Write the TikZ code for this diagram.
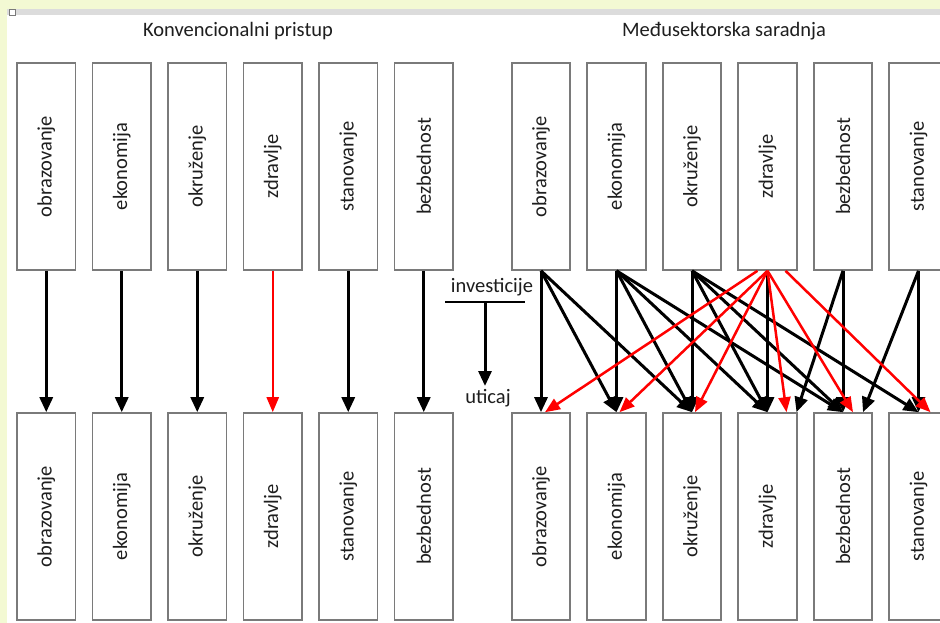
\documentclass[tikz,border=0pt]{standalone}
\usepackage{fontspec}
\usepackage{graphicx}
\setmainfont{Carlito}
\usetikzlibrary{arrows.meta,calc}
\definecolor{bgyellow}{HTML}{F3F9D3}
\definecolor{bandgray}{HTML}{DCDCDC}
\definecolor{boxgray}{HTML}{7A7A7A}
\definecolor{txt}{HTML}{1E1E1E}
\tikzset{
  sbox/.style={draw=boxgray,line width=1.6pt,fill=white,minimum width=58.5pt,minimum height=207pt,inner sep=0pt,
    font=\fontsize{20.5}{24}\selectfont,text=txt},
  blk/.style={line width=3pt,black,-{Triangle[length=15pt,width=13pt]}},
  rd/.style={line width=2.5pt,red,-{Triangle[length=15pt,width=12pt]}},
  ttl/.style={font=\fontsize{20.5}{24}\selectfont,text=txt,inner sep=0pt},
}
\newcommand{\rt}[1]{\rotatebox{90}{#1}}
\begin{document}
\begin{tikzpicture}[x=1pt,y=-1pt]
\useasboundingbox (0,0) rectangle (940,623);
\clip (0,0) rectangle (940,623);
\fill[bgyellow] (0,0) rectangle (940,623);
\fill[white] (7,15) rectangle (940,623);
\fill[bandgray] (7,9) rectangle (940,15);
\draw[boxgray,fill=white,line width=0.6pt] (9,9.5) rectangle (15.5,15);

\node[ttl] (t1) at (238,31) {Konvencionalni pristup};
\node[ttl] (t2) at (724,31) {Međusektorska saradnja};

% left group
\foreach \i/\lab in {1/obrazovanje,2/ekonomija,3/okruženje,4/zdravlje,5/stanovanje,6/bezbednost}{
  \node[sbox] (L\i) at ({46.25+75.5*(\i-1)},166.5) {\rt{\lab}};
  \node[sbox] (LB\i) at ({46.25+75.5*(\i-1)},516.5) {\rt{\lab}};
}
% right group
\foreach \i/\lab in {1/obrazovanje,2/ekonomija,3/okruženje,4/zdravlje,5/bezbednost,6/stanovanje}{
  \node[sbox] (R\i) at ({541+75.5*(\i-1)},166.5) {\rt{\lab}};
  \node[sbox] (RB\i) at ({541+75.5*(\i-1)},516.5) {\rt{\lab}};
}

% left arrows
\foreach \i in {1,2,3,5,6}{ \draw[blk] (L\i.south) -- (LB\i.north); }
\draw[rd] (L4.south) -- (LB4.north);

% legend
\node[ttl] (inv) at (492,287) {investicije};
\node[ttl] (uti) at (488,398) {uticaj};
\coordinate (lgl) at (445,302);
\coordinate (lgr) at (525,302);
\coordinate (lgt) at (485,302);
\coordinate (lgb) at (485,386);
\draw[line width=2.8pt] (lgl) -- (lgr);
\draw[blk] (lgt) -- (lgb);

% right black arrows
\foreach \t in {1,2,3}{ \draw[blk] (R1.south) -- (RB\t.north); }
\foreach \t in {2,3,4,5}{ \draw[blk] (R2.south) -- (RB\t.north); }
\foreach \t in {3,4,5,6}{ \draw[blk] (R3.south) -- (RB\t.north); }
\draw[blk] (R4.south) -- (RB4.north);
\draw[blk] (R5.south) -- (RB5.north);
\draw[blk] (R5.south) -- ($(RB4.north)+(29,0)$);
\draw[blk] (R6.south) -- (RB6.north);
\draw[blk] (R6.south) -- ($(RB5.north)+(20,0)$);

% right red arrows
\draw[rd] ($(R4.south)+(-10,0)$) -- ($(RB1.north)+(4,0)$);
\draw[rd] (R4.south) -- ($(RB2.north)+(3,0)$);
\draw[rd] (R4.south) -- ($(RB3.north)+(3,0)$);
\draw[rd] (R4.south) -- ($(RB4.north)+(19,0)$);
\draw[rd] (R4.south) -- ($(RB5.north)+(10,0)$);
\draw[rd] ($(R4.south)+(18,0)$) -- ($(RB6.north)+(12,0)$);
\end{tikzpicture}
\end{document}
